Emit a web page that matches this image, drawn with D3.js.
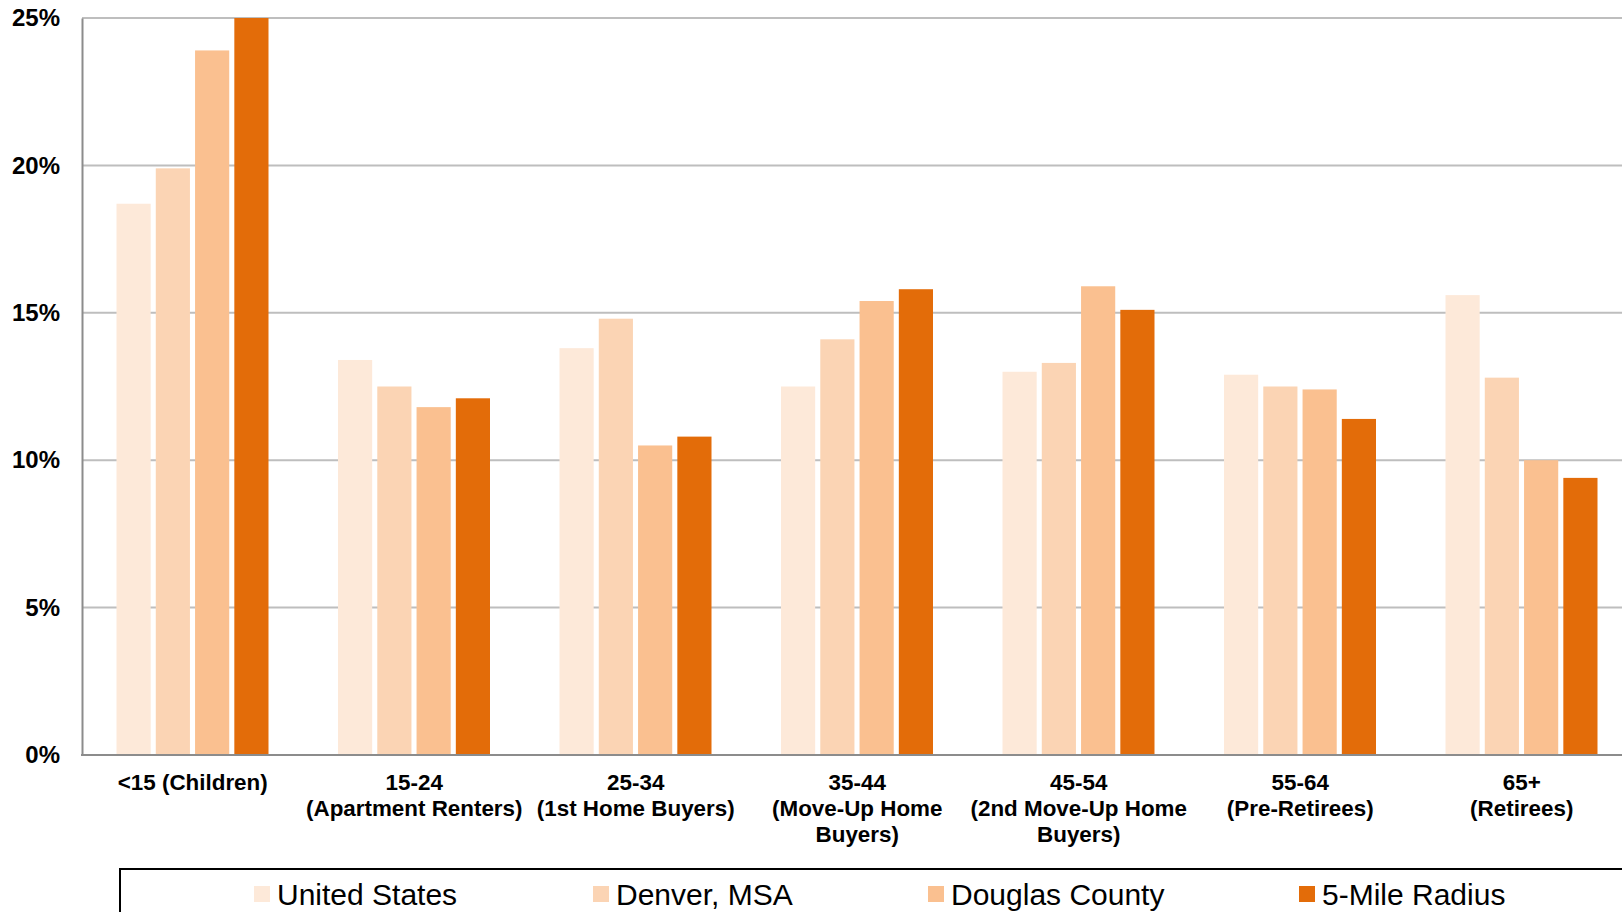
<!DOCTYPE html>
<html>
<head>
<meta charset="utf-8">
<script src="https://cdn.jsdelivr.net/npm/d3@7"></script>
<style>
  html, body { margin: 0; padding: 0; background: #fff; }
  svg { display: block; font-family: "Liberation Sans", Arial, sans-serif; }
</style>
</head>
<body>
<svg id="chart" width="1622" height="912"></svg>
<script>
// Age groups (each label split into its printed lines)
const categories = [
  ["<15 (Children)"],
  ["15-24", "(Apartment Renters)"],
  ["25-34", "(1st Home Buyers)"],
  ["35-44", "(Move-Up Home", "Buyers)"],
  ["45-54", "(2nd Move-Up Home", "Buyers)"],
  ["55-64", "(Pre-Retirees)"],
  ["65+", "(Retirees)"]
];

const seriesNames = ["United States", "Denver, MSA", "Douglas County", "5-Mile Radius"];

// Share of population (%) per age group
const unitedStates = [18.7, 13.4, 13.8, 12.5, 13.0, 12.9, 15.6];
const denverMSA    = [19.9, 12.5, 14.8, 14.1, 13.3, 12.5, 12.8];
const douglasCounty= [23.9, 11.8, 10.5, 15.4, 15.9, 12.4, 10.0];
const fiveMile     = [25.0, 12.1, 10.8, 15.8, 15.1, 11.4,  9.4];

const seriesValues = [unitedStates, denverMSA, douglasCounty, fiveMile];
const colors = ["#FDE9D9", "#FBD4B4", "#FAC090", "#E36C09"];

const yTicks = [0, 5, 10, 15, 20, 25];

const svg = d3.select("#chart");

const plotLeft = 82, plotTop = 18, plotBottom = 755;
const groupStep = 221.5;

const catKeys = categories.map(c => c.join(" "));

const x = d3.scaleBand()
  .domain(catKeys)
  .range([plotLeft, plotLeft + groupStep * categories.length])
  .padding(0);

const xInner = d3.scaleBand()
  .domain(seriesNames)
  .range([34.5, 34.5 + 152])
  .paddingInner(0.13)
  .paddingOuter(0);

const y = d3.scaleLinear().domain([0, 25]).range([plotBottom, plotTop]);

// Horizontal gridlines
svg.append("g")
  .selectAll("line")
  .data(yTicks.filter(t => t > 0))
  .join("line")
  .attr("x1", plotLeft)
  .attr("x2", 1622)
  .attr("y1", d => y(d))
  .attr("y2", d => y(d))
  .attr("stroke", "#BEBEBE")
  .attr("stroke-width", 2);

// Bars
const rows = catKeys.map((k, i) => ({ key: k, vals: seriesValues.map((s, j) => ({ name: seriesNames[j], v: s[i], c: colors[j] })) }));

svg.append("g")
  .selectAll("g")
  .data(rows)
  .join("g")
  .attr("transform", d => `translate(${x(d.key)},0)`)
  .selectAll("rect")
  .data(d => d.vals)
  .join("rect")
  .attr("x", d => xInner(d.name))
  .attr("width", xInner.bandwidth())
  .attr("y", d => y(d.v))
  .attr("height", d => y(0) - y(d.v))
  .attr("fill", d => d.c);

// Y axis
const yAxis = svg.append("g")
  .attr("transform", `translate(${plotLeft},0)`)
  .call(d3.axisLeft(y).tickValues(yTicks).tickFormat(d => d + "%").tickSize(0).tickPadding(22));
yAxis.select(".domain").attr("stroke", "#8C8C8C").attr("stroke-width", 2);
yAxis.selectAll("text")
  .attr("font-size", 24)
  .attr("font-weight", "bold")
  .attr("fill", "#000")
  .attr("font-family", "Liberation Sans, Arial, sans-serif");

// X axis baseline
svg.append("line")
  .attr("x1", plotLeft - 1)
  .attr("x2", 1622)
  .attr("y1", y(0))
  .attr("y2", y(0))
  .attr("stroke", "#8C8C8C")
  .attr("stroke-width", 2);

// X category labels
const xl = svg.append("g")
  .selectAll("text")
  .data(categories)
  .join("text")
  .attr("x", (d, i) => x(catKeys[i]) + x.bandwidth() / 2)
  .attr("y", 790)
  .attr("text-anchor", "middle")
  .attr("font-size", 22.4)
  .attr("font-weight", "bold")
  .attr("fill", "#000");
xl.selectAll("tspan")
  .data(d => d)
  .join("tspan")
  .attr("x", function () { return d3.select(this.parentNode).attr("x"); })
  .attr("dy", (d, i) => i === 0 ? 0 : 26)
  .text(d => d);

// Legend box
svg.append("rect")
  .attr("x", 120)
  .attr("y", 869)
  .attr("width", 1600)
  .attr("height", 100)
  .attr("fill", "none")
  .attr("stroke", "#000")
  .attr("stroke-width", 2);

const legendX = [254, 593, 928, 1299];
const lg = svg.append("g")
  .selectAll("g")
  .data(seriesNames)
  .join("g")
  .attr("transform", (d, i) => `translate(${legendX[i]},894)`);
lg.append("rect")
  .attr("x", 0)
  .attr("y", -8)
  .attr("width", 16)
  .attr("height", 16)
  .attr("fill", (d, i) => colors[i]);
lg.append("text")
  .attr("x", 23)
  .attr("y", 0)
  .attr("dy", "0.35em")
  .attr("font-size", 30)
  .attr("fill", "#000")
  .text(d => d);
</script>
</body>
</html>
